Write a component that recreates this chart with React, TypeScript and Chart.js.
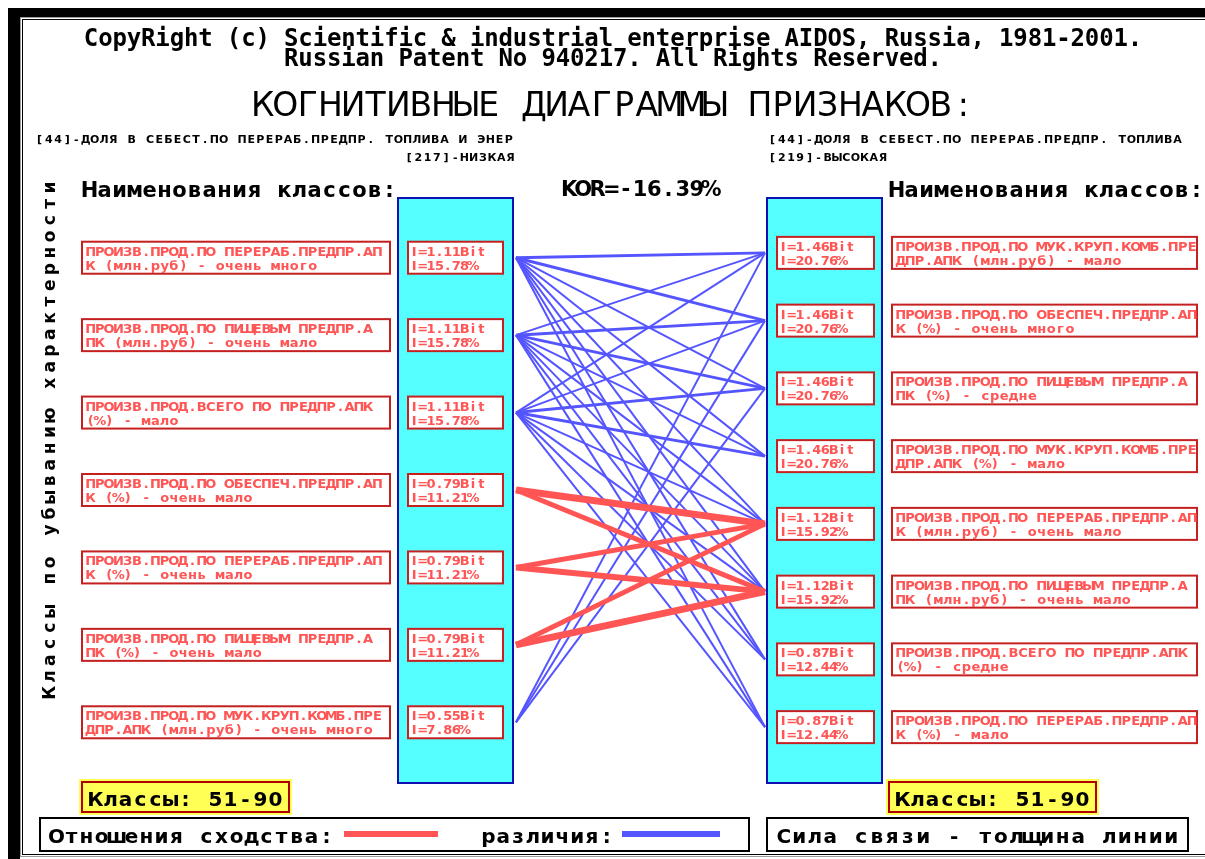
import React, { useEffect, useRef } from "react";
import { Chart, registerables } from "chart.js";
Chart.register(...registerables);

// ---------- data ----------
const copyright1 = "CopyRight (c) Scientific & industrial enterprise AIDOS, Russia, 1981-2001.";
const copyright2 = "Russian Patent No 940217. All Rights Reserved.";
const mainTitle = "КОГНИТИВНЫЕ ДИАГРАММЫ ПРИЗНАКОВ:";
const leftFeature = ["[44]-ДОЛЯ В СЕБЕСТ.ПО ПЕРЕРАБ.ПРЕДПР. ТОПЛИВА И ЭНЕР", "[217]-НИЗКАЯ"];
const rightFeature = ["[44]-ДОЛЯ В СЕБЕСТ.ПО ПЕРЕРАБ.ПРЕДПР. ТОПЛИВА", "[219]-ВЫСОКАЯ"];
const korText = "KOR=-16.39%";
const classesHeader = "Наименования классов:";
const sideTitle = "Классы по убыванию характерности";
const classRange = "Классы: 51-90";
const legendSimilar = "Отношения сходства:";
const legendDiff = "различия:";
const legendWidth = "Сила связи - толщина линии";

const leftClasses = [
  ["ПРОИЗВ.ПРОД.ПО ПЕРЕРАБ.ПРЕДПР.АП", "К (млн.руб) - очень много"],
  ["ПРОИЗВ.ПРОД.ПО ПИЩЕВЫМ ПРЕДПР.А", "ПК (млн.руб) - очень мало"],
  ["ПРОИЗВ.ПРОД.ВСЕГО ПО ПРЕДПР.АПК", "(%) - мало"],
  ["ПРОИЗВ.ПРОД.ПО ОБЕСПЕЧ.ПРЕДПР.АП", "К (%) - очень мало"],
  ["ПРОИЗВ.ПРОД.ПО ПЕРЕРАБ.ПРЕДПР.АП", "К (%) - очень мало"],
  ["ПРОИЗВ.ПРОД.ПО ПИЩЕВЫМ ПРЕДПР.А", "ПК (%) - очень мало"],
  ["ПРОИЗВ.ПРОД.ПО МУК.КРУП.КОМБ.ПРЕ", "ДПР.АПК (млн.руб) - очень много"],
];
const leftBits = [1.11, 1.11, 1.11, 0.79, 0.79, 0.79, 0.55];
const leftPct = [15.78, 15.78, 15.78, 11.21, 11.21, 11.21, 7.86];

const rightClasses = [
  ["ПРОИЗВ.ПРОД.ПО МУК.КРУП.КОМБ.ПРЕ", "ДПР.АПК (млн.руб) - мало"],
  ["ПРОИЗВ.ПРОД.ПО ОБЕСПЕЧ.ПРЕДПР.АП", "К (%) - очень много"],
  ["ПРОИЗВ.ПРОД.ПО ПИЩЕВЫМ ПРЕДПР.А", "ПК (%) - средне"],
  ["ПРОИЗВ.ПРОД.ПО МУК.КРУП.КОМБ.ПРЕ", "ДПР.АПК (%) - мало"],
  ["ПРОИЗВ.ПРОД.ПО ПЕРЕРАБ.ПРЕДПР.АП", "К (млн.руб) - очень мало"],
  ["ПРОИЗВ.ПРОД.ПО ПИЩЕВЫМ ПРЕДПР.А", "ПК (млн.руб) - очень мало"],
  ["ПРОИЗВ.ПРОД.ВСЕГО ПО ПРЕДПР.АПК", "(%) - средне"],
  ["ПРОИЗВ.ПРОД.ПО ПЕРЕРАБ.ПРЕДПР.АП", "К (%) - мало"],
];
const rightBits = [1.46, 1.46, 1.46, 1.46, 1.12, 1.12, 0.87, 0.87];
const rightPct = [20.76, 20.76, 20.76, 20.76, 15.92, 15.92, 12.44, 12.44];

// links: left class index -> right class index, sign (+1 similarity, -1 difference), strength (line width)
const linkFrom = [
  0, 0, 0, 0, 0, 0, 0, 0,
  1, 1, 1, 1, 1, 1, 1, 1,
  2, 2, 2, 2, 2, 2, 2, 2,
  6, 6, 6,
  3, 3, 4, 4, 5, 5,
];
const linkTo = [
  0, 1, 2, 3, 4, 5, 6, 7,
  0, 1, 2, 3, 4, 5, 6, 7,
  0, 1, 2, 3, 4, 5, 6, 7,
  0, 1, 2,
  4, 5, 4, 5, 4, 5,
];
const linkSign = [
  -1, -1, -1, -1, -1, -1, -1, -1,
  -1, -1, -1, -1, -1, -1, -1, -1,
  -1, -1, -1, -1, -1, -1, -1, -1,
  -1, -1, -1,
  1, 1, 1, 1, 1, 1,
];
const linkStrength = [
  3, 3, 2, 2, 2, 2, 2, 2,
  2, 3, 3, 2, 2, 2, 2, 2,
  2, 2, 3, 3, 2, 2, 2, 2,
  2, 2, 2,
  7, 5, 5, 6, 5, 7,
];

// ---------- colours ----------
const RED = "#FF5555";
const BLUE = "#5555FF";
const CYAN = "#55FFFF";
const DARKBLUE = "#1010B0";
const BOXRED = "#C42020";

function gridText(ctx: CanvasRenderingContext2D, text: string, x: number, y: number, adv: number, font: string, color: string) {
  ctx.save();
  ctx.font = font;
  ctx.fillStyle = color;
  ctx.textAlign = "center";
  ctx.textBaseline = "alphabetic";
  for (let i = 0; i < text.length; i++) {
    const ch = text[i];
    if (ch !== " ") ctx.fillText(ch, x + adv * i + adv / 2, y);
  }
  ctx.restore();
}

const diagramPlugin = {
  id: "cognitiveDiagram",
  beforeDatasetsDraw(chart: any) {
    const ctx: CanvasRenderingContext2D = chart.ctx;
    const xs = chart.scales.x;
    const ys = chart.scales.y;
    const W = chart.width;
    const H = chart.height;
    ctx.save();
    // background
    ctx.fillStyle = "#FFFFFF";
    ctx.fillRect(0, 0, W, H);
    // frame
    ctx.fillStyle = "#000000";
    ctx.fillRect(8, 8, W - 8, 9);
    ctx.fillRect(8, 8, 12, H - 8);
    ctx.strokeStyle = "#9a9a9a";
    ctx.lineWidth = 1;
    ctx.strokeRect(20.5, 17.5, W + 10, 839);
    ctx.strokeStyle = "#000000";
    ctx.strokeRect(22.5, 19.5, W + 10, 835);

    // titles
    const tf = "bold 24px 'DejaVu Sans Mono'";
    gridText(ctx, copyright1, 613 - (copyright1.length * 14.3) / 2, 46, 14.3, tf, "#000");
    gridText(ctx, copyright2, 613 - (copyright2.length * 14.3) / 2, 66, 14.3, tf, "#000");
    gridText(ctx, mainTitle, 613 - (mainTitle.length * 22.6) / 2, 116, 22.6, "33px 'DejaVu Sans'", "#000");

    // feature names
    const sf = "bold 11px 'DejaVu Sans'";
    gridText(ctx, leftFeature[0], 35, 143, 9.2, sf, "#000");
    gridText(ctx, leftFeature[1], 515 - leftFeature[1].length * 9.2, 161, 9.2, sf, "#000");
    gridText(ctx, rightFeature[0], 768, 143, 9.2, sf, "#000");
    gridText(ctx, rightFeature[1], 768, 161, 9.2, sf, "#000");

    // headers
    const hf = "bold 21px 'DejaVu Sans'";
    gridText(ctx, classesHeader, 82, 197, 15, hf, "#000");
    gridText(ctx, classesHeader, 889, 197, 15, hf, "#000");
    gridText(ctx, korText, 562, 196, 14.2, hf, "#000");

    // vertical side title
    ctx.save();
    ctx.translate(55, 701);
    ctx.rotate(-Math.PI / 2);
    gridText(ctx, sideTitle, 0, 0, 16.3, "bold 17px 'DejaVu Sans'", "#000");
    ctx.restore();

    // columns
    const xl = xs.getPixelForValue(0);
    const xr = xs.getPixelForValue(1);
    const colTop = 198;
    const colBot = 783;
    const colW = 115;
    ctx.fillStyle = CYAN;
    ctx.strokeStyle = DARKBLUE;
    ctx.lineWidth = 2;
    ctx.fillRect(xl - 3 - colW, colTop, colW, colBot - colTop);
    ctx.strokeRect(xl - 3 - colW, colTop, colW, colBot - colTop);
    ctx.fillRect(xr + 2, colTop, colW, colBot - colTop);
    ctx.strokeRect(xr + 2, colTop, colW, colBot - colTop);

    const bf = "bold 13px 'DejaVu Sans'";
    const drawBox = (x0: number, x1: number, c: number) => {
      ctx.fillStyle = "#FFFFFF";
      ctx.fillRect(x0, c - 16, x1 - x0, 32);
      ctx.strokeStyle = BOXRED;
      ctx.lineWidth = 2;
      ctx.strokeRect(x0, c - 16, x1 - x0, 32);
    };

    leftClasses.forEach((lines, i) => {
      const c = ys.getPixelForValue((i + 0.5) / leftClasses.length);
      drawBox(82, 390, c);
      gridText(ctx, lines[0], 86, c - 2, 9.25, bf, RED);
      gridText(ctx, lines[1], 86, c + 12, 9.25, bf, RED);
      drawBox(xl - 108, xl - 13, c);
      gridText(ctx, "I=" + leftBits[i].toFixed(2) + "Bit", xl - 106, c - 2, 8.4, bf, RED);
      gridText(ctx, "I=" + leftPct[i].toFixed(2) + "%", xl - 106, c + 12, 8.4, bf, RED);
    });
    rightClasses.forEach((lines, j) => {
      const c = ys.getPixelForValue((j + 0.5) / rightClasses.length);
      drawBox(xr + 12, xr + 109, c);
      gridText(ctx, "I=" + rightBits[j].toFixed(2) + "Bit", xr + 14, c - 2, 8.4, bf, RED);
      gridText(ctx, "I=" + rightPct[j].toFixed(2) + "%", xr + 14, c + 12, 8.4, bf, RED);
      drawBox(892, 1197, c);
      gridText(ctx, lines[0], 896, c - 2, 9.4, bf, RED);
      gridText(ctx, lines[1], 896, c + 12, 9.4, bf, RED);
    });

    // class range boxes
    const drawRange = (x0: number) => {
      ctx.fillStyle = "#FFFF55";
      ctx.fillRect(x0, 779, 213, 36);
      ctx.strokeStyle = "#B00000";
      ctx.lineWidth = 2;
      ctx.strokeRect(x0 + 3, 782, 207, 30);
      gridText(ctx, classRange, x0 + 9, 806, 15, "bold 20px 'DejaVu Sans'", "#000");
    };
    drawRange(79);
    drawRange(886);

    // legend boxes
    ctx.fillStyle = "#FFFFFF";
    ctx.strokeStyle = "#000";
    ctx.lineWidth = 2;
    ctx.fillRect(40, 818, 709, 33);
    ctx.strokeRect(40, 818, 709, 33);
    ctx.fillRect(767, 818, 421, 33);
    ctx.strokeRect(767, 818, 421, 33);
    const lf = "bold 20px 'DejaVu Sans'";
    gridText(ctx, legendSimilar, 49, 843, 15, lf, "#000");
    gridText(ctx, legendDiff, 481, 843, 14.8, lf, "#000");
    gridText(ctx, legendWidth, 776, 843, 15.5, lf, "#000");
    ctx.lineWidth = 6;
    ctx.strokeStyle = RED;
    ctx.beginPath();
    ctx.moveTo(344, 834);
    ctx.lineTo(438, 834);
    ctx.stroke();
    ctx.strokeStyle = BLUE;
    ctx.beginPath();
    ctx.moveTo(622, 834);
    ctx.lineTo(720, 834);
    ctx.stroke();
    ctx.restore();
  },
};

export default function App() {
  const ref = useRef<HTMLCanvasElement | null>(null);
  useEffect(() => {
    if (!ref.current) return;
    const datasets = linkFrom.map((l, k) => ({
      label: "link" + k,
      data: [
        { x: 0, y: (l + 0.5) / leftClasses.length },
        { x: 1, y: (linkTo[k] + 0.5) / rightClasses.length },
      ],
      borderColor: linkSign[k] > 0 ? RED : BLUE,
      borderWidth: linkStrength[k],
      pointRadius: 0,
      fill: false,
      tension: 0,
      clip: false as any,
      order: linkSign[k] > 0 ? 0 : 1,
    }));
    const chart = new Chart(ref.current, {
      type: "line",
      data: { datasets },
      options: {
        responsive: false,
        animation: false,
        events: [],
        layout: { padding: { left: 516, right: 440, top: 219, bottom: 98 } },
        scales: {
          x: { type: "linear", min: 0, max: 1, display: false },
          y: { type: "linear", min: 0, max: 1, reverse: true, display: false },
        },
        plugins: { legend: { display: false }, tooltip: { enabled: false } },
      },
      plugins: [diagramPlugin],
    } as any);
    return () => chart.destroy();
  }, []);
  return (
    <div style={{ position: "fixed", left: 0, top: 0, width: 1205, height: 859, background: "#fff" }}>
      <canvas ref={ref} width={1205} height={859} style={{ display: "block" }} />
    </div>
  );
}
